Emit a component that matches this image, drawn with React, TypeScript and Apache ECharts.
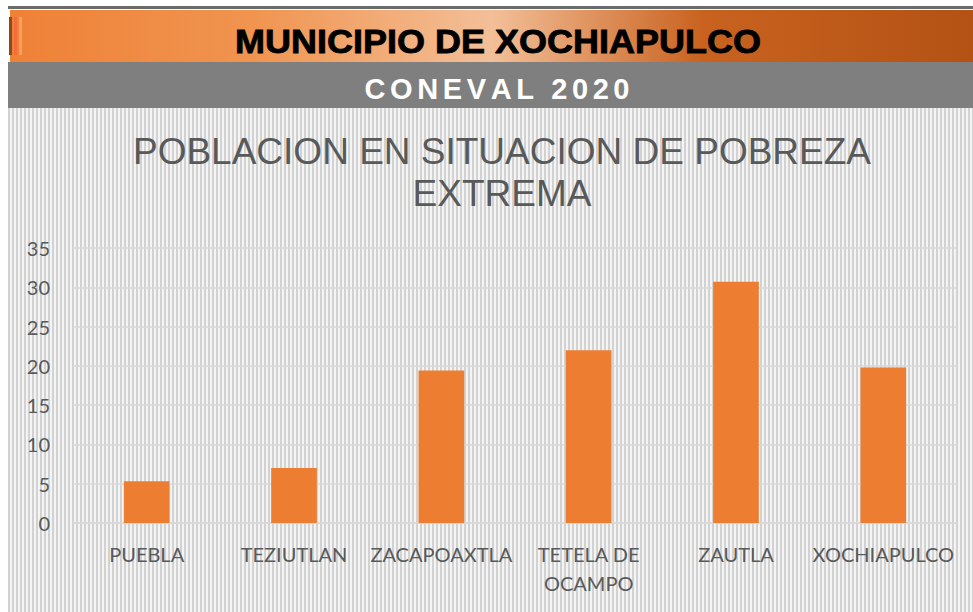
import React, { useEffect, useRef } from "react";
import * as echarts from "echarts";

const categories = ["PUEBLA", "TEZIUTLAN", "ZACAPOAXTLA", "TETELA DE\nOCAMPO", "ZAUTLA", "XOCHIAPULCO"];
const values = [5.3, 7.0, 19.4, 22.0, 30.7, 19.8];
const yTicks = { min: 0, max: 35, interval: 5 };
const headerTitle = "MUNICIPIO DE XOCHIAPULCO";
const headerSub = "CONEVAL 2020";
const chartTitle = "POBLACION EN SITUACION DE POBREZA\nEXTREMA";

function spacedText(text: string, font: string, centerX: number, y: number, totalWidth: number, fill: string) {
  const ctx = document.createElement("canvas").getContext("2d")!;
  ctx.font = font;
  const widths = text.split("").map((c) => ctx.measureText(c).width);
  const sum = widths.reduce((a, b) => a + b, 0);
  const gap = (totalWidth - sum) / (text.length - 1);
  let x = centerX - totalWidth / 2;
  const children: any[] = [];
  text.split("").forEach((c, i) => {
    children.push({
      type: "text",
      x,
      y,
      style: { text: c, font, fill, align: "left", verticalAlign: "middle" },
      silent: true,
    });
    x += widths[i] + gap;
  });
  return { type: "group", children };
}

export default function App() {
  const ref = useRef<HTMLDivElement>(null);
  useEffect(() => {
    if (!ref.current) return;
    const chart = echarts.init(ref.current, undefined, { renderer: "svg" });
    const subFont = "bold 29px 'Liberation Sans', Arial, sans-serif";
    chart.setOption({
      animation: false,
      backgroundColor: "transparent",
      title: {
        text: chartTitle,
        left: 497,
        textAlign: "center",
        top: 125,
        textStyle: {
          fontFamily: "Liberation Sans, Arial, sans-serif",
          fontSize: 37,
          fontWeight: "normal",
          color: "#595959",
          lineHeight: 42,
        },
      },
      grid: { left: 73, right: 16, top: 248, bottom: 89 },
      xAxis: {
        type: "category",
        data: categories,
        axisLine: { lineStyle: { color: "#d9d9d9", width: 1.5 } },
        axisTick: { show: false },
        axisLabel: {
          interval: 0,
          margin: 16,
          color: "#595959",
          fontFamily: "Lato, Noto Sans, sans-serif",
          fontSize: 20,
          lineHeight: 29,
        },
      },
      yAxis: {
        type: "value",
        min: yTicks.min,
        max: yTicks.max,
        interval: yTicks.interval,
        axisLine: { show: false },
        axisTick: { show: false },
        axisLabel: {
          margin: 23,
          color: "#595959",
          fontFamily: "Lato, Noto Sans, sans-serif",
          fontSize: 20,
        },
        splitLine: { lineStyle: { color: "#d9d9d9", width: 1.5 } },
      },
      series: [
        {
          type: "bar",
          data: values,
          barWidth: "31%",
          itemStyle: { color: "#ED7D31" },
        },
      ],
      graphic: [
        {
          type: "rect",
          shape: { x: 8, y: 6, width: 965, height: 3 },
          style: { fill: "#6b6b6b" },
          silent: true,
        },
        {
          type: "rect",
          shape: { x: 10, y: 10, width: 963, height: 52 },
          style: {
            fill: new echarts.graphic.LinearGradient(0, 0, 1, 0, [
              { offset: 0, color: "#ef8137" },
              { offset: 0.25, color: "#f0944f" },
              { offset: 0.5, color: "#f3bf98" },
              { offset: 0.72, color: "#c9621f" },
              { offset: 1, color: "#b35214" },
            ]),
          },
          silent: true,
        },
        {
          type: "rect",
          shape: { x: 9, y: 17, width: 3, height: 38 },
          style: { fill: "#8a4a1c" },
          silent: true,
        },
        {
          type: "rect",
          shape: { x: 14, y: 17, width: 3, height: 38 },
          style: { fill: "#f36c3a" },
          silent: true,
        },
        {
          type: "rect",
          shape: { x: 19, y: 17, width: 3, height: 38 },
          style: { fill: "#f7a060" },
          silent: true,
        },
        {
          type: "rect",
          shape: { x: 8, y: 62, width: 965, height: 46 },
          style: { fill: "#7f7f7f" },
          silent: true,
        },
        {
          type: "text",
          x: 498,
          y: 41.5,
          scaleX: 1.125,
          scaleY: 1.04,
          style: {
            text: headerTitle,
            fill: "#000000",
            stroke: "#000000",
            lineWidth: 0.8,
            font: "bold 32px 'Liberation Sans', Arial, sans-serif",
            align: "center",
            verticalAlign: "middle",
          },
          silent: true,
        },
        spacedText(headerSub, subFont, 497, 89, 265, "#ffffff"),
      ],
    });
    return () => chart.dispose();
  }, []);
  return (
    <div style={{ position: "absolute", left: 0, top: 0, width: 973, height: 612, background: "#ffffff" }}>
      <div
        style={{
          position: "absolute",
          left: 8,
          top: 108,
          width: 965,
          height: 504,
          background: "repeating-linear-gradient(90deg, #d2d2d2 0px, #d2d2d2 2px, #f4f4f4 2px, #f4f4f4 4px)",
        }}
      />
      <div ref={ref} style={{ position: "absolute", left: 0, top: 0, width: 973, height: 612 }} />
    </div>
  );
}
